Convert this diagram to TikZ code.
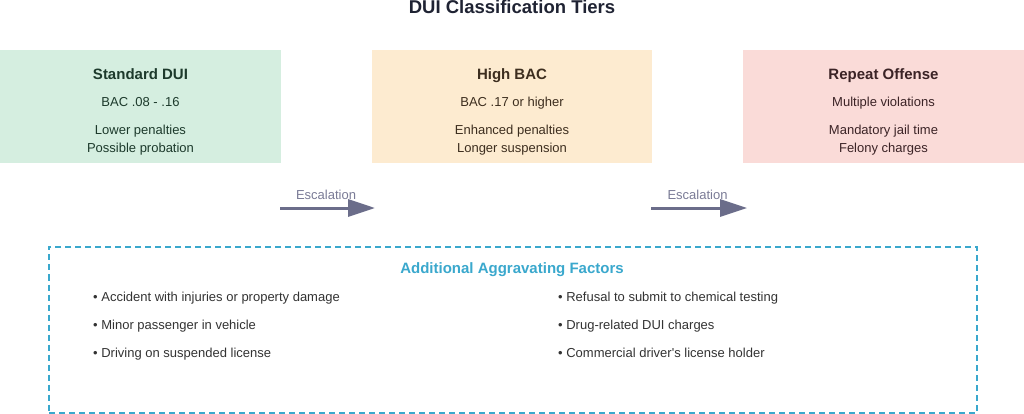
\documentclass[tikz,border=0pt]{standalone}
\usepackage{fontspec}
\setmainfont{Liberation Sans}[Ligatures=TeXOff]
\usetikzlibrary{arrows.meta}
\definecolor{titlec}{HTML}{1F2333}
\definecolor{greenf}{HTML}{D5EEE0}
\definecolor{orangef}{HTML}{FDEBD0}
\definecolor{redf}{HTML}{FADBD8}
\definecolor{greent}{HTML}{1D3A2C}
\definecolor{oranget}{HTML}{3D2E1F}
\definecolor{redt}{HTML}{3B2326}
\definecolor{arrowc}{HTML}{6B6D8A}
\definecolor{esct}{HTML}{7A7B96}
\definecolor{bluec}{HTML}{3AA8CD}
\definecolor{bodyt}{HTML}{333333}
\tikzset{
  tier/.style={inner sep=0pt, outer sep=0pt, minimum width=281pt, minimum height=113pt, anchor=north west},
  tiertitle/.style={anchor=base, inner sep=0pt, font=\fontsize{15}{18}\selectfont\bfseries},
  tiertext/.style={anchor=base, inner sep=0pt, font=\fontsize{13}{15.6}\selectfont},
  esclabel/.style={anchor=base, inner sep=0pt, text=esct, font=\fontsize{13}{15.6}\selectfont},
  escarrow/.style={draw=arrowc, line width=3pt, -{Triangle[length=27pt,width=17pt]}},
  bullet/.style={anchor=base west, inner sep=0pt, text=bodyt, font=\fontsize{13}{15.6}\selectfont},
}
\begin{document}
\begin{tikzpicture}[x=1pt,y=-1pt]
\useasboundingbox (0,0) rectangle (1024,414);
\fill[white] (0,0) rectangle (1024,414);
% title
\node[anchor=base, inner sep=0pt, text=titlec, font=\fontsize{18.5}{22}\selectfont\bfseries] (title) at (512,13.5) {DUI Classification Tiers};
% tiers
\node[tier, fill=greenf] (t1) at (0,50) {};
\node[tier, fill=orangef, minimum width=280pt] (t2) at (372,50) {};
\node[tier, fill=redf] (t3) at (743,50) {};
% tier 1 text
\node[tiertitle, text=greent] (t1a) at (140.5,79.5) {Standard DUI};
\node[tiertext, text=greent] (t1b) at (140.5,106.7) {BAC .08 - .16};
\node[tiertext, text=greent] (t1c) at (140.5,134.2) {Lower penalties};
\node[tiertext, text=greent] (t1d) at (140.5,152.5) {Possible probation};
% tier 2 text
\node[tiertitle, text=oranget] (t2a) at (512,79.5) {High BAC};
\node[tiertext, text=oranget] (t2b) at (512,106.7) {BAC .17 or higher};
\node[tiertext, text=oranget] (t2c) at (512,134.2) {Enhanced penalties};
\node[tiertext, text=oranget] (t2d) at (512,152.5) {Longer suspension};
% tier 3 text
\node[tiertitle, text=redt] (t3a) at (883.5,79.5) {Repeat Offense};
\node[tiertext, text=redt] (t3b) at (883.5,106.7) {Multiple violations};
\node[tiertext, text=redt] (t3c) at (883.5,134.2) {Mandatory jail time};
\node[tiertext, text=redt] (t3d) at (883.5,152.5) {Felony charges};
% escalation arrows
\coordinate (e1s) at (280,208);
\coordinate (e1e) at (375,208);
\coordinate (e2s) at (651,208);
\coordinate (e2e) at (747,208);
\draw[escarrow] (e1s) -- (e1e);
\draw[escarrow] (e2s) -- (e2e);
\node[esclabel] (l1) at (326,199) {Escalation};
\node[esclabel] (l2) at (697.5,199) {Escalation};
% aggravating factors
\node[draw=bluec, line width=2pt, dash pattern=on 6pt off 4pt, inner sep=0pt, minimum width=928pt, minimum height=166pt, anchor=north west] (agg) at (48,245.5) {};
\node[anchor=base, inner sep=0pt, text=bluec, font=\fontsize{15}{18}\selectfont\bfseries] (aggt) at (512,273.5) {Additional Aggravating Factors};
\node[bullet] (b1) at (93,301.7) {• Accident with injuries or property damage};
\node[bullet] (b2) at (93,329.7) {• Minor passenger in vehicle};
\node[bullet] (b3) at (93,357.7) {• Driving on suspended license};
\node[bullet] (b4) at (558,301.7) {• Refusal to submit to chemical testing};
\node[bullet] (b5) at (558,329.7) {• Drug-related DUI charges};
\node[bullet] (b6) at (558,357.7) {• Commercial driver's license holder};
\end{tikzpicture}
\end{document}
